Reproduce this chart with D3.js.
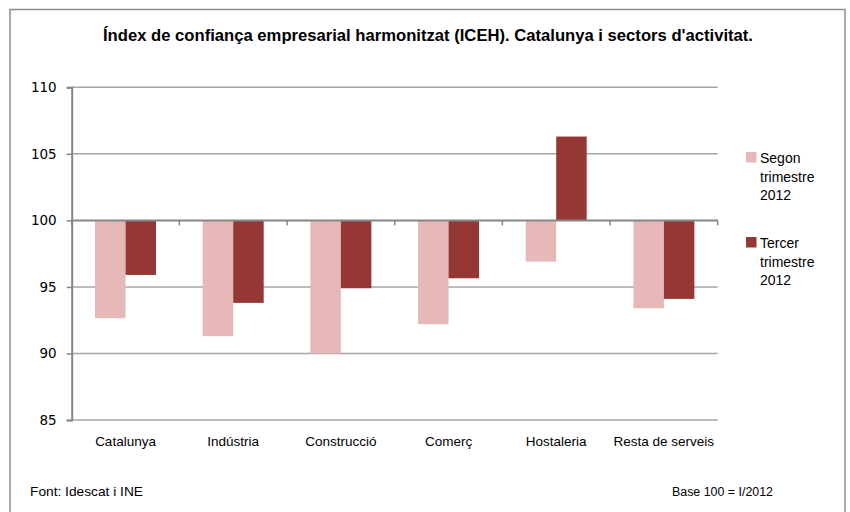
<!DOCTYPE html>
<html>
<head>
<meta charset="utf-8">
<script src="https://cdn.jsdelivr.net/npm/d3@7"></script>
<style>
  body { margin: 0; background: #fff; }
  svg { display: block; }
</style>
</head>
<body>
<div id="chart"></div>
<script>
// data
var categories = ["Catalunya", "Indústria", "Construcció", "Comerç", "Hostaleria", "Resta de serveis"];
var seriesNames = ["Segon trimestre 2012", "Tercer trimestre 2012"];
var segonT = [92.65, 91.3, 90.0, 92.2, 96.9, 93.4];
var tercerT = [95.9, 93.8, 94.9, 95.65, 106.3, 94.1];
var yTicks = [85, 90, 95, 100, 105, 110];
var legendLines = [["Segon", "trimestre", "2012"], ["Tercer", "trimestre", "2012"]];
var colors = ["#e6b8b7", "#953735"];

var W = 850, H = 512;
var plot = {left: 71.7, right: 717.7, top: 87.3, bottom: 420};

var svg = d3.select("#chart").append("svg")
    .attr("width", W)
    .attr("height", H);

// outer frame
svg.append("rect")
    .attr("x", 10).attr("y", 9.5)
    .attr("width", 835).attr("height", 520)
    .attr("fill", "#fff")
    .attr("stroke", "#8c8c8c")
    .attr("stroke-width", 1.5);

svg.append("text")
    .attr("x", 428).attr("y", 41)
    .attr("text-anchor", "middle")
    .attr("font-family", "Liberation Sans, Arial, sans-serif")
    .attr("font-weight", "bold")
    .attr("font-size", 16.5)
    .attr("textLength", 650)
    .attr("lengthAdjust", "spacingAndGlyphs")
    .attr("fill", "#000")
    .text("Índex de confiança empresarial harmonitzat (ICEH). Catalunya i sectors d'activitat.");

var y = d3.scaleLinear().domain([85, 110]).range([plot.bottom, plot.top]);
var x0 = d3.scaleBand().domain(categories).range([plot.left, plot.right]).padding(0);
var x1 = d3.scaleBand().domain([0, 1]).range([0, x0.bandwidth()]).paddingInner(0).paddingOuter(0.766);

// gridlines
svg.append("g")
    .selectAll("line")
    .data(yTicks.filter(function(d) { return d !== 100; }))
    .join("line")
    .attr("x1", plot.left).attr("x2", plot.right)
    .attr("y1", function(d) { return y(d); })
    .attr("y2", function(d) { return y(d); })
    .attr("stroke", "#a6a6a6")
    .attr("stroke-width", 1.5);

// y axis
var yAxis = svg.append("g")
    .attr("transform", "translate(" + plot.left + ",0)")
    .call(d3.axisLeft(y).tickValues(yTicks).tickSize(5).tickPadding(10).tickFormat(d3.format("d")));
yAxis.select(".domain").attr("stroke", "#868686").attr("stroke-width", 2);
yAxis.selectAll(".tick line").attr("stroke", "#868686").attr("stroke-width", 1.5);
yAxis.selectAll("text")
    .attr("font-family", "DejaVu Sans, Verdana, sans-serif")
    .attr("font-size", 13.5)
    .attr("fill", "#000");

// bars
var rows = categories.map(function(c, i) { return {cat: c, vals: [segonT[i], tercerT[i]]}; });
var groups = svg.append("g").selectAll("g")
    .data(rows)
    .join("g")
    .attr("transform", function(d) { return "translate(" + x0(d.cat) + ",0)"; });

groups.selectAll("rect")
    .data(function(d) { return d.vals.map(function(v, k) { return {k: k, v: v}; }); })
    .join("rect")
    .attr("x", function(d) { return x1(d.k); })
    .attr("width", x1.bandwidth())
    .attr("y", function(d) { return Math.min(y(d.v), y(100)); })
    .attr("height", function(d) { return Math.abs(y(d.v) - y(100)); })
    .attr("fill", function(d) { return colors[d.k]; });

// x axis crosses at 100, ticks between categories
var xTicks = d3.range(categories.length + 1).map(function(i) { return plot.left + i * x0.step(); });
svg.append("g")
    .selectAll("line")
    .data(xTicks)
    .join("line")
    .attr("x1", function(d) { return d; }).attr("x2", function(d) { return d; })
    .attr("y1", y(100)).attr("y2", y(100) + 5)
    .attr("stroke", "#868686")
    .attr("stroke-width", 1.5);
svg.append("line")
    .attr("x1", plot.left).attr("x2", plot.right)
    .attr("y1", y(100)).attr("y2", y(100))
    .attr("stroke", "#868686")
    .attr("stroke-width", 2);

// category labels at the bottom
svg.append("g")
    .selectAll("text")
    .data(categories)
    .join("text")
    .attr("x", function(d) { return x0(d) + x0.bandwidth() / 2; })
    .attr("y", 446)
    .attr("text-anchor", "middle")
    .attr("font-family", "Liberation Sans, Arial, sans-serif")
    .attr("font-size", 13.5)
    .attr("fill", "#000")
    .text(function(d) { return d; });

// legend
var legend = svg.append("g").selectAll("g")
    .data(seriesNames)
    .join("g")
    .attr("transform", function(d, i) { return "translate(746," + (152 + i * 85) + ")"; });
legend.append("rect")
    .attr("width", 10.5).attr("height", 10.5)
    .attr("fill", function(d, i) { return colors[i]; });
legend.append("text")
    .attr("font-family", "Liberation Sans, Arial, sans-serif")
    .attr("font-size", 14)
    .attr("fill", "#000")
    .selectAll("tspan")
    .data(function(d, i) { return legendLines[i]; })
    .join("tspan")
    .attr("x", 14)
    .attr("y", function(d, j) { return 11 + j * 18.7; })
    .text(function(d) { return d; });

// footer notes
svg.append("text")
    .attr("x", 30).attr("y", 496)
    .attr("font-family", "Liberation Sans, Arial, sans-serif")
    .attr("font-size", 13)
    .attr("textLength", 113)
    .attr("lengthAdjust", "spacingAndGlyphs")
    .text("Font: Idescat i INE");
svg.append("text")
    .attr("x", 672).attr("y", 496)
    .attr("font-family", "Liberation Sans, Arial, sans-serif")
    .attr("font-size", 12)
    .attr("textLength", 101)
    .attr("lengthAdjust", "spacingAndGlyphs")
    .text("Base 100 = I/2012");
</script>
</body>
</html>
